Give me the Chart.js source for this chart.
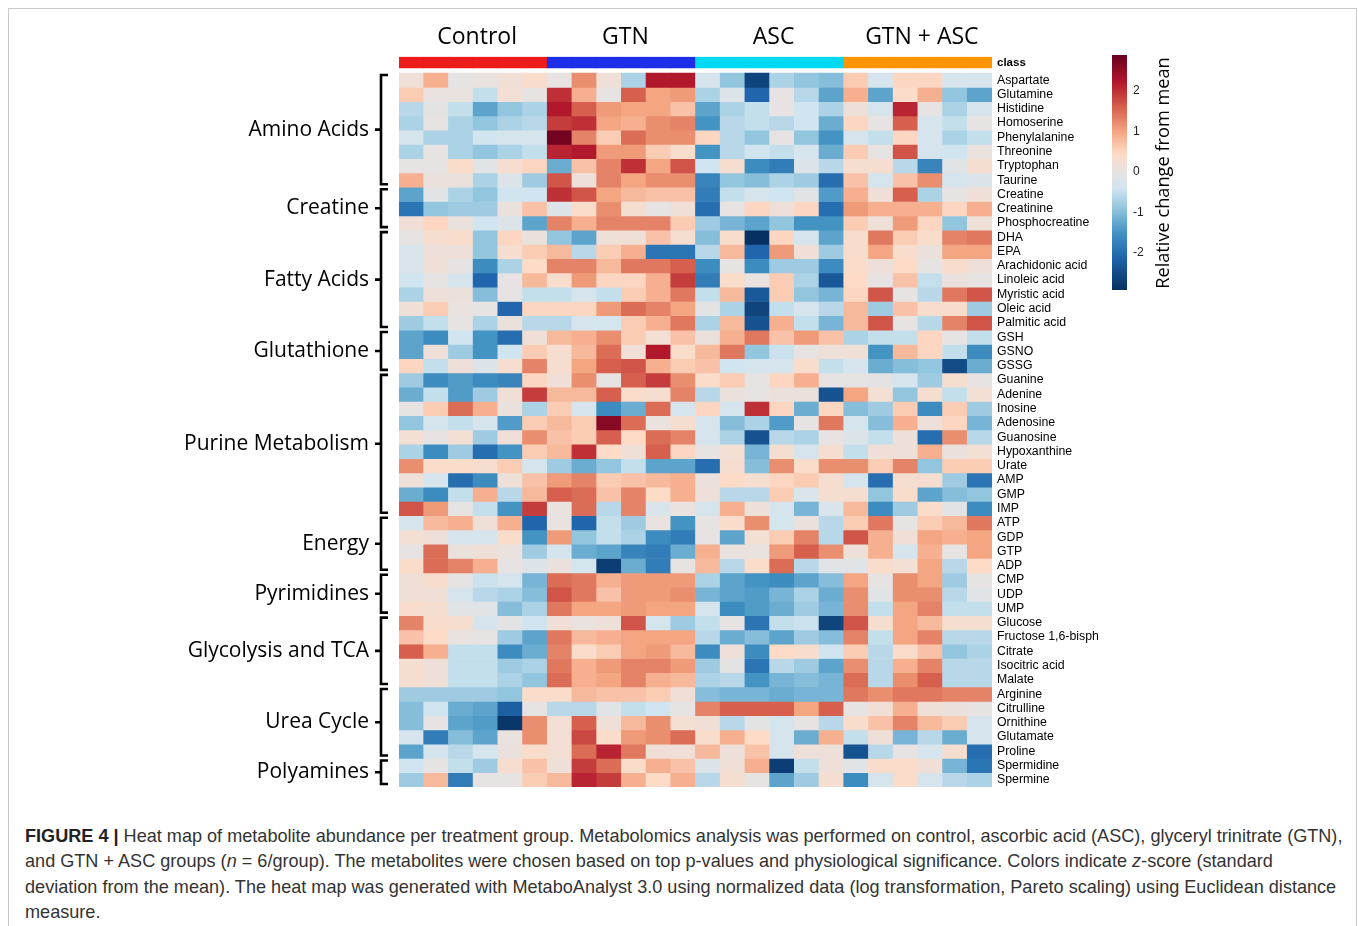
<!DOCTYPE html>
<html>
<head>
<meta charset="utf-8">
<script src="https://cdn.jsdelivr.net/npm/chart.js@4.4.1/dist/chart.umd.min.js"></script>
<style>
  body { margin: 0; background: #fff; width: 1358px; height: 926px; overflow: hidden; position: relative; }
  #frame { position: absolute; left: 8px; top: 8px; width: 1347px; height: 1000px; border: 1px solid #c8c8c8; }
  #chart { position: absolute; left: 0; top: 0; }
  #caption { position: absolute; left: 25px; top: 824px; font-family: "Liberation Sans", Arial, sans-serif;
             font-size: 18.1px; line-height: 25.3px; color: #333; white-space: nowrap; }
  #caption b { color: #222; }
</style>
</head>
<body>
<div id="frame"></div>
<canvas id="chart" width="1358" height="800"></canvas>
<div id="caption"><b>FIGURE 4 |</b> Heat map of metabolite abundance per treatment group. Metabolomics analysis was performed on control, ascorbic acid (ASC), glyceryl trinitrate (GTN),<br>and GTN + ASC groups (<i>n</i> = 6/group). The metabolites were chosen based on top p-values and physiological significance. Colors indicate <i>z</i>-score (standard<br>deviation from the mean). The heat map was generated with MetaboAnalyst 3.0 using normalized data (log transformation, Pareto scaling) using Euclidean distance<br>measure.</div>
<script>
// групи зразків (по 6 у кожній)
var sampleGroups = ['Control', 'GTN', 'ASC', 'GTN + ASC'];
var groupColors = ['#ee1b1b', '#1d2fe6', '#00d9f4', '#ff9500'];
var samplesPerGroup = 6;

// значення z-score, рядок = метаболіт, 24 стовпці
var aminoAcidNames = ['Aspartate', 'Glutamine', 'Histidine', 'Homoserine', 'Phenylalanine', 'Threonine', 'Tryptophan', 'Taurine'];
var aminoAcidValues = [
  [0.2,0.9,0,0.05,0.2,0.35, 0,1.2,0.2,-0.7,2.2,2.2, -0.3,-0.9,-2.6,-0.7,-0.9,-1.0, 0.6,-0.3,0.5,0.5,-0.3,-0.3],
  [0.6,0.05,0.05,-0.5,0.25,0, 2.0,0.9,0,1.6,1.0,1.1, -0.7,-0.2,-2.1,0,-0.6,-1.3, 0.9,-1.3,0.4,0.9,-0.9,-1.3],
  [-0.6,-0.05,-0.5,-1.3,-0.9,-0.7, 2.2,1.6,1.1,1.0,1.0,0.7, -1.3,-0.7,-0.5,0,-0.4,-0.7, 0.15,-0.3,2.1,0,-0.7,-0.3],
  [-0.7,0,-0.7,-0.9,-0.7,-0.6, 1.9,2.0,1.0,0.9,1.2,1.3, -1.5,-0.6,-0.5,-0.6,-0.4,-1.2, 0.5,0,1.6,-0.3,-0.5,0],
  [-0.3,-0.7,-0.7,-0.4,-0.3,-0.3, 2.8,1.3,0.6,1.5,1.2,1.2, 0.5,-0.6,-0.9,0,-0.9,-1.5, -0.3,-0.5,0.5,-0.3,-0.7,-0.5],
  [-0.7,0,-0.7,-0.9,-0.7,-0.5, 2.1,2.2,1.1,1.1,0.6,0.35, -1.5,-0.6,-0.4,-0.5,-0.3,-1.2, 0.6,0,1.7,-0.3,-0.4,0.05],
  [0,0,0.4,-0.1,0.3,0.5, -1.2,0.7,1.3,2.0,1.0,1.7, -0.4,0.3,-1.6,-1.8,-0.2,-0.6, 0.3,0.3,-0.6,-1.7,-0.1,0.3],
  [0.9,0.1,0.1,-0.7,-0.2,-0.8, 1.7,0.15,1.3,1.0,1.2,1.2, -1.7,-0.9,-1.0,-0.7,-0.8,-2.0, 0.7,-0.3,0.7,1.2,-0.3,-0.2]
];
var creatineNames = ['Creatine', 'Creatinine', 'Phosphocreatine'];
var creatineValues = [
  [-1.3,-0.1,-0.7,-0.9,-0.4,-0.4, 2.0,1.7,1.0,0.8,0.7,0.7, -1.8,-0.5,-0.3,-0.4,-0.1,-1.4, 0.9,0.2,1.6,-0.7,0,0.2],
  [-1.9,-0.9,-0.8,-0.8,0.1,0.7, -0.2,0.4,1.2,0.3,0,0.2, -2.0,0,0.5,0.15,0.5,-2.0, 1.1,0.9,0.9,0.9,0.5,0.9],
  [0.2,0.5,0.1,-0.4,-0.2,-1.3, 1.3,0.9,1.3,1.3,1.3,0.6, -0.8,-1.1,-1.3,-0.9,-1.5,-1.5, 0.6,0.15,1.1,0.5,-0.9,0.15]
];
var fattyAcidNames = ['DHA', 'EPA', 'Arachidonic acid', 'Linoleic acid', 'Myristic acid', 'Oleic acid', 'Palmitic acid'];
var fattyAcidValues = [
  [0,0.3,0.35,-0.9,0.5,0.1, -0.9,-1.3,0.2,0.2,0.7,0.3, -1.0,0.35,-2.9,0.5,-0.3,-1.3, 0.35,1.4,0.6,0.4,1.3,1.4],
  [-0.25,0.15,0.15,-0.9,0.3,0.6, 0.8,-0.6,0.6,0.9,-1.9,-1.9, -0.6,0.8,-2.1,1.1,0.2,-0.8, 0.35,1.0,0.35,0.1,1.0,1.0],
  [-0.25,0.2,0,-1.6,-0.7,0.45, 1.3,1.3,0.8,1.4,1.4,1.6, -1.6,0,-1.6,-0.8,-0.8,-1.6, 0.4,0.15,0.45,0,0.35,0.15],
  [-0.4,0,-0.3,-2.1,0,0.8, 0.35,1.1,0.5,0.5,0.9,1.9, -1.8,0.4,0.05,0.6,-0.7,-2.3, 0.45,0,0.7,-0.5,0.1,0],
  [-0.7,0.15,0.1,-1.0,0,-0.5, -0.5,-0.3,-0.5,0.6,0.9,1.4, -0.5,0.8,-2.3,0.6,-0.9,-1.1, 0.5,1.7,0,-0.6,1.4,1.7],
  [0.2,0.6,0.05,0,-2.1,0.5, 0.5,0.5,1.1,1.5,1.3,1.0, -0.05,-0.7,-2.6,-0.5,-0.3,-0.6, 0.8,-0.8,0.7,0.35,0.35,-0.8],
  [-0.8,-0.5,0,-0.7,0.1,-0.6, -0.6,-0.3,-0.35,0.6,0.9,1.4, -0.7,0.8,-2.4,0.9,-0.5,-1.1, 0.8,1.7,0,-0.6,1.3,1.7]
];
var glutathioneNames = ['GSH', 'GSNO', 'GSSG'];
var glutathioneValues = [
  [-1.3,-1.6,-0.4,-1.5,-2.0,0.2, 0.8,0.9,1.2,0.6,0.25,0.7, 0.1,0.9,1.4,0.7,1.1,0.7, -0.7,-0.5,-0.5,0.5,0,-0.5],
  [-1.3,0.15,-0.8,-1.5,-0.4,0.6, 0.3,0.8,1.5,0.2,2.2,0.4, 0.8,1.4,-0.9,-0.45,0,0.15, 0.2,-1.5,0.8,0.5,-0.5,-1.6],
  [0.5,-0.5,0.15,-0.2,0.3,1.3, 0.3,1.0,1.6,1.7,0.9,0.6, 0.7,-0.4,-0.3,-0.3,0.35,-0.5, -0.3,-1.2,-1.0,-0.9,-2.5,-1.2]
];
var purineNames = ['Guanine', 'Adenine', 'Inosine', 'Adenosine', 'Guanosine', 'Hypoxanthine', 'Urate', 'AMP', 'GMP', 'IMP'];
var purineValues = [
  [-0.8,-1.6,-1.4,-1.6,-1.7,0.5, 0.2,1.2,0,1.6,1.9,1.2, 0.4,0.6,0,0.5,0.9,0, 0,-0.05,-0.3,-0.8,0.3,0],
  [-1.2,-0.5,-1.4,-0.8,0.2,1.9, 0.8,0.8,1.6,0.4,0.3,1.3, -0.6,0.1,0,0.1,0.1,-2.4, 1.0,0.25,-0.9,0.3,-0.5,0.25],
  [0,0.6,1.5,0.9,0.1,-0.7, 0.6,-0.3,-1.6,-1.2,1.5,-0.3, 0.5,-0.3,2.0,0.5,-1.2,0.5, -1.0,-0.8,0.6,-1.6,0.6,-0.8],
  [-0.9,-0.3,-0.5,-0.3,-1.4,0.6, 0.8,0.6,2.6,1.5,0.05,0.3, -0.3,-1.0,-0.7,-1.4,0,1.4, -0.35,-1.0,0.9,0.15,0.5,-1.1],
  [0.25,0,0.25,-0.8,0.2,1.2, 0.7,0.6,1.6,0.45,1.5,1.3, -0.3,-0.7,-2.4,-0.6,-0.7,0, -0.2,-0.5,0.15,-2.0,1.2,-0.6],
  [-0.7,-1.6,-0.8,-2.0,-1.5,0.6, 0.8,2.0,0.45,0.2,1.6,0.5, 0,0.25,-1.1,0.3,-0.3,0.3, -0.5,0.2,0.15,0.9,0.1,0.25],
  [1.2,0.4,0.4,0.3,0.6,-0.3, -0.8,-1.2,-0.9,-0.5,-1.3,-1.3, -2.0,0.3,-1.0,1.2,0.4,1.2, 1.2,0.6,1.3,-0.9,0.6,0.6],
  [0.15,-0.3,-2.0,-1.6,0.15,0.7, 1.1,1.3,0.6,0.7,0.8,0.9, 0.1,0.45,0.3,0.5,0.6,0.3, -0.3,-2.0,0.3,0.3,-0.8,-1.9],
  [-1.2,-1.6,-0.5,0.9,-0.6,0.8, 1.6,1.5,0.7,1.3,0.45,0.9, 0.15,-0.6,-0.6,0.6,-0.25,0.3, 0.3,-0.9,0.35,-1.3,-1.0,-0.9],
  [1.7,1.1,0,-0.5,-1.5,1.9, 0.05,1.5,-0.6,1.3,-0.25,0.05, -0.3,0.9,0.15,-0.3,-1.1,-0.25, 0.8,-1.6,-0.8,0.4,-0.1,-1.6]
];
var energyNames = ['ATP', 'GDP', 'GTP', 'ADP'];
var energyValues = [
  [-0.3,0.8,0.9,0.2,0.9,-2.1, 0.05,-2.1,-0.5,-0.8,0.05,-1.5, 0,0.4,1.2,-0.35,0.1,-0.6, 0.6,1.4,0,0.6,0.8,1.4],
  [0.25,0.15,-0.3,-0.3,0.4,-1.5, 1.1,-0.9,-0.5,-0.7,-1.6,-1.8, 0,-1.3,0.25,0.6,1.3,-0.6, 1.7,0.9,0.2,1.0,0.9,1.0],
  [0,1.5,0.1,0.2,0.05,-0.8, -0.35,-1.2,-1.3,-1.7,-1.8,-1.2, 0.9,0.05,0.05,1.1,1.6,1.2, 0.15,0.9,-0.3,0.9,0,1.0],
  [0.4,1.5,1.3,0.9,0,-0.2, 0.1,-0.35,-2.7,-1.2,-1.8,0, 0.8,-0.6,0.4,1.5,-0.6,-0.1, -0.1,0.4,0.25,1.0,-0.6,0.45]
];
var pyrimidineNames = ['CMP', 'UDP', 'UMP'];
var pyrimidineValues = [
  [0.2,0.35,0,-0.45,-0.3,-1.1, 1.5,1.4,0.9,1.1,1.1,1.1, -0.7,-1.3,-1.5,-1.6,-1.3,-1.0, 1.0,0,1.2,1.0,-0.8,0],
  [0.2,0.2,-0.3,-0.6,-0.7,-1.0, 1.7,1.4,0.7,1.1,1.1,1.2, -1.1,-1.3,-1.4,-1.1,-0.7,-1.2, 1.2,-0.1,1.2,1.2,-0.6,-0.1],
  [0.35,0.3,-0.1,-0.1,-1.0,-0.7, 1.4,1.0,1.0,1.1,1.0,1.0, -0.3,-1.6,-1.4,-1.2,-0.8,-1.1, 1.2,-0.5,1.0,1.3,-0.5,-0.5]
];
var glycolysisNames = ['Glucose', 'Fructose 1,6-bisph', 'Citrate', 'Isocitric acid', 'Malate'];
var glycolysisValues = [
  [1.3,0.35,0.3,-0.3,-0.05,-0.4, 0.2,0.05,0.15,1.7,-0.35,-0.8, -0.5,0,-1.9,-0.5,-0.45,-2.6, 1.7,0.3,1.0,0.8,0.3,0.3],
  [0.7,0.45,0.05,0,-0.8,-1.3, 1.4,0.8,0.9,1.0,1.0,1.0, -0.6,-1.2,-1.0,-1.3,-0.8,-1.0, 1.3,-0.5,1.0,1.3,-0.6,-0.6],
  [1.6,0.9,-0.5,-0.5,-1.6,-1.2, 1.3,0.4,0.6,1.0,1.1,0.8, -1.6,0.15,-1.6,0.45,0.35,-0.4, 0.6,-0.6,0.4,0.7,-0.9,-0.7],
  [0.3,0.15,-0.5,-0.5,-0.8,-0.7, 1.4,0.9,1.1,1.3,1.3,1.1, -0.8,-0.05,-1.9,-0.6,-0.8,-1.3, 1.2,-0.6,0.9,1.3,-0.6,-0.6],
  [0.3,0.15,-0.5,-0.5,-0.7,-0.9, 1.5,0.9,1.0,1.3,0.9,0.8, -0.7,-0.6,-1.5,-1.1,-1.0,-1.1, 1.5,-0.6,1.2,1.6,-0.6,-0.6]
];
var ureaNames = ['Arginine', 'Citrulline', 'Ornithine', 'Glutamate', 'Proline'];
var ureaValues = [
  [-0.8,-0.8,-0.8,-0.8,-0.9,0.4, 0.4,0.8,0.7,0.7,0.6,0.2, -1.0,-1.1,-1.1,-1.2,-1.1,-1.1, 1.4,1.2,1.4,1.4,1.3,1.3],
  [-1.0,-0.4,-1.2,-1.3,-2.2,0, -0.6,-0.6,-0.1,-0.5,-0.4,0, 1.3,1.6,1.6,1.6,1.0,1.6, 0,0.2,0.9,0.2,0.1,0],
  [-1.0,0,-1.3,-1.4,-2.8,1.2, 0.25,1.6,0.2,0.8,1.2,0.25, 0.2,-0.6,-0.05,-0.35,0,-0.6, 0.35,0.7,1.3,0.8,0.6,-0.3],
  [-0.3,-1.8,-1.0,-1.3,0.05,1.2, 0.25,1.8,0.4,1.1,1.2,1.5, 0.35,0.9,0.45,-0.3,-1.2,0.9, -0.5,0.2,-1.1,-0.6,-1.2,-0.3],
  [-1.3,-0.3,-0.6,-0.3,0.1,0.4, 0.25,1.5,2.1,1.4,0.2,0.2, 0.8,0.15,0.7,-0.3,0.15,0.15, -2.4,-0.6,0,-0.3,0.3,-2.0]
];
var polyamineNames = ['Spermidine', 'Spermine'];
var polyamineValues = [
  [-0.4,0,-0.5,-0.8,0.3,0.7, 0.15,1.9,1.5,0.4,0.9,0.7, -0.2,0.2,0.9,-2.7,-0.5,0.15, -0.1,0.4,0.4,0.2,-1.1,-1.9],
  [-0.8,0.8,-1.8,0,0,0.6, 0.8,2.1,1.9,0.9,0.45,0.9, -0.6,0.3,0,-1.3,-0.8,0.3, -1.6,-0.3,0.4,-0.3,-0.6,-0.7]
];

var blocks = [
  ['Amino Acids', aminoAcidNames, aminoAcidValues],
  ['Creatine', creatineNames, creatineValues],
  ['Fatty Acids', fattyAcidNames, fattyAcidValues],
  ['Glutathione', glutathioneNames, glutathioneValues],
  ['Purine Metabolism', purineNames, purineValues],
  ['Energy', energyNames, energyValues],
  ['Pyrimidines', pyrimidineNames, pyrimidineValues],
  ['Glycolysis and TCA', glycolysisNames, glycolysisValues],
  ['Urea Cycle', ureaNames, ureaValues],
  ['Polyamines', polyamineNames, polyamineValues]
];

// шкала кольорів (синій - сірий - червоний)
var colorStops = [
  [-2.9, [5, 48, 97]], [-2.1, [33, 102, 172]], [-1.5, [67, 147, 195]], [-0.9, [146, 197, 222]],
  [-0.4, [209, 229, 240]], [0, [230, 227, 226]], [0.45, [253, 219, 199]], [1.0, [244, 165, 130]],
  [1.6, [214, 96, 77]], [2.2, [178, 24, 43]], [2.9, [103, 0, 31]]
];
function valueColor(v) {
  if (v <= colorStops[0][0]) return 'rgb(' + colorStops[0][1].join(',') + ')';
  for (var i = 1; i < colorStops.length; i++) {
    if (v <= colorStops[i][0]) {
      var a = colorStops[i - 1], b = colorStops[i];
      var t = (v - a[0]) / (b[0] - a[0]);
      var c = a[1].map(function (x, k) { return Math.round(x + (b[1][k] - x) * t); });
      return 'rgb(' + c.join(',') + ')';
    }
  }
  return 'rgb(' + colorStops[colorStops.length - 1][1].join(',') + ')';
}

var samples = [];
for (var s = 0; s < sampleGroups.length * samplesPerGroup; s++) samples.push('S' + (s + 1));

var rowNames = [], rowValues = [], blockRanges = [];
blocks.forEach(function (b) {
  blockRanges.push([b[0], rowNames.length, rowNames.length + b[1].length]);
  b[1].forEach(function (n, i) { rowNames.push(n); rowValues.push(b[2][i]); });
});

var datasets = [{
  label: 'class',
  data: samples.map(function () { return [-1.12, -0.35]; }),
  backgroundColor: samples.map(function (_, i) { return groupColors[Math.floor(i / samplesPerGroup)]; })
}];
rowNames.forEach(function (name, r) {
  datasets.push({
    label: name,
    data: samples.map(function () { return [r, r + 1]; }),
    backgroundColor: rowValues[r].map(valueColor)
  });
});
datasets.forEach(function (d) {
  d.grouped = false; d.barPercentage = 1; d.categoryPercentage = 1; d.borderWidth = 0;
});

var tickLabels = ['class'].concat(rowNames);

// підписи груп, дужки, шкала кольорів
var decorPlugin = {
  id: 'decor',
  afterDraw: function (chart) {
    var ctx = chart.ctx, x = chart.scales.x, y = chart.scales.y;
    ctx.save();
    ctx.fillStyle = '#000';
    ctx.textBaseline = 'middle';
    ctx.textAlign = 'center';
    ctx.font = '23px "Open Sans", sans-serif';
    sampleGroups.forEach(function (g, i) {
      ctx.fillText(g, x.getPixelForValue(i * samplesPerGroup + 2.5) + 4, 37);
    });
    ctx.textAlign = 'right';
    ctx.font = '21px "Open Sans", sans-serif';
    ctx.strokeStyle = '#000';
    ctx.lineWidth = 2.6;
    blockRanges.forEach(function (b) {
      var top = y.getPixelForValue(b[1]) + 2, bot = y.getPixelForValue(b[2]) - 3;
      var mid = (top + bot) / 2;
      ctx.fillText(b[0], 369, mid);
      ctx.beginPath();
      ctx.moveTo(388, top); ctx.lineTo(381, top); ctx.lineTo(381, bot); ctx.lineTo(388, bot);
      ctx.moveTo(381, mid); ctx.lineTo(375, mid);
      ctx.stroke();
    });
    // шкала кольорів
    var cbX = 1112, cbW = 15, zeroY = 172, unit = 40.5;
    for (var py = 55; py < 290; py++) {
      ctx.fillStyle = valueColor((zeroY - py - 0.5) / unit);
      ctx.fillRect(cbX, py, cbW, 1);
    }
    ctx.fillStyle = '#222';
    ctx.font = '12px "Liberation Sans", Arial, sans-serif';
    ctx.textAlign = 'left';
    [2, 1, 0, -1, -2].forEach(function (v) {
      ctx.fillText(String(v), 1133, zeroY - v * unit);
    });
    ctx.translate(1164, 173);
    ctx.rotate(-Math.PI / 2);
    ctx.textAlign = 'center';
    ctx.fillStyle = '#000';
    ctx.font = '18.2px "Open Sans", sans-serif';
    ctx.fillText('Relative change from mean', 0, 0);
    ctx.restore();
  }
};

var ctx = document.getElementById('chart').getContext('2d');
var myChart = new Chart(ctx, {
  type: 'bar',
  data: { labels: samples, datasets: datasets },
  options: {
    responsive: false,
    animation: false,
    devicePixelRatio: 1,
    layout: { padding: { left: 399, top: 56.6, right: 216, bottom: 13 } },
    plugins: { legend: { display: false }, tooltip: { enabled: false } },
    scales: {
      x: { type: 'category', display: false },
      y: {
        position: 'right',
        reverse: true,
        min: -1.15,
        max: 50,
        grid: { display: false, drawTicks: false },
        border: { display: false },
        afterBuildTicks: function (axis) {
          axis.ticks = [{ value: -0.735 }].concat(rowNames.map(function (_, i) { return { value: i + 0.5 }; }));
        },
        afterFit: function (axis) { axis.width = 150; },
        ticks: {
          autoSkip: false,
          padding: 5,
          color: '#000',
          font: function (c) {
            return c.index === 0
              ? { family: '"Liberation Sans", Arial, sans-serif', size: 11.5, weight: 'bold' }
              : { family: '"Liberation Sans", Arial, sans-serif', size: 12.3 };
          },
          callback: function (value, index) { return tickLabels[index]; }
        }
      }
    }
  },
  plugins: [decorPlugin]
});
</script>
</body>
</html>
